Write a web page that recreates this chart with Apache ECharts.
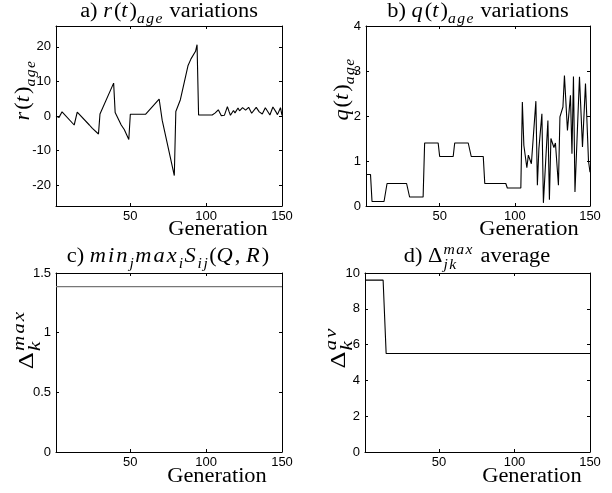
<!DOCTYPE html>
<html>
<head>
<meta charset="utf-8">
<script src="https://cdn.jsdelivr.net/npm/echarts@6/dist/echarts.min.js"></script>
<style>
html,body{margin:0;padding:0;background:#fff;}
#chart{width:612px;height:493px;}
</style>
</head>
<body>
<div id="chart"></div>
<script>
// ---------- data ----------
const xTicks = [50, 100, 150];
const yTicksA = [-20, -10, 0, 10, 20];
const yTicksB = [0, 1, 2, 3, 4];
const yTicksC = [0, 0.5, 1, 1.5];
const yTicksD = [0, 2, 4, 6, 8, 10];

// a) r(t)_age
const rGen = [1,3,5,13,15,23,25,29,30,39,40,44,46,49,50,60,69,71,79,80,83,88,90,93,94,95,
  104,106,107,108,110,112,114,115,116,118,119,121,122,124,126,128,130,133,135,137,139,141,142,144,146,147,149,150];
const rVal = [0,-0.4,1.2,-2.6,1.1,-2.6,-3.6,-5.2,0.6,9.5,1.0,-2.6,-3.9,-6.8,0.5,0.5,4.9,-1.2,-17.2,1.3,4.7,14.5,16.5,18.7,20.6,0.3,
  0.3,0.9,1.0,1.8,0.1,0.2,2.7,1.4,0.2,1.6,0.9,2.3,1.5,2.4,1.7,2.5,0.8,2.5,1.2,0.6,2.4,1.0,0.3,2.6,1.2,0.4,2.4,0.2];

// b) q(t)_age
const qGen = [1,4,5,13,15,28,30,39,40,49,50,59,60,69,71,79,80,94,95,104,
  105,106,108,109,111,114,115,116,118,119,122,123,124,126,127,129,130,132,133,135,137,138,139,140,143,145,147,149,150];
const qVal = [0.7,0.7,0.1,0.1,0.5,0.5,0.2,0.2,1.4,1.4,1.1,1.1,1.4,1.4,1.1,1.1,0.5,0.5,0.4,0.4,
  2.31,1.35,0.85,1.13,0.94,2.33,0.46,1.27,2.05,0.07,1.9,0.14,1.5,1.3,1.4,0.46,1.98,2.2,2.9,1.68,2.46,1.16,2.88,0.31,2.87,1.31,2.72,1.0,0.75];

// c) min_j max_i S_ij(Q,R)
const cGen = [1, 150];
const cVal = [1.385, 1.385];

// d) Delta_jk^max average
const dGen = [1, 13, 15, 150];
const dVal = [9.6, 9.6, 5.5, 5.5];

// ---------- helpers ----------
const zip = (a, b) => a.map((v, i) => [v, b[i]]);
const SERIF = '"Liberation Serif", "Times New Roman", serif';
const SANS = '"Liberation Sans", Arial, sans-serif';
const mctx = document.createElement('canvas').getContext('2d');
function measure(t, fs, it) {
  mctx.font = (it ? 'italic ' : '') + fs + 'px ' + SERIF;
  return mctx.measureText(t).width;
}
function txt(t, x, baseY, fs, it) {
  return {
    type: 'text', x: x, y: baseY - 0.32 * fs,
    style: { text: t, font: (it ? 'italic ' : '') + fs + 'px ' + SERIF, fill: '#000',
      align: 'left', verticalAlign: 'middle' }
  };
}
// lays out a run of text; italic (math) runs get extra letter spacing
function run(ch, t, x, baseY, fs, it) {
  if (!it) { ch.push(txt(t, x, baseY, fs, false)); return x + measure(t, fs, false); }
  const ls = 0.09 * fs;
  for (const c of t) {
    ch.push(txt(c, x, baseY, fs, true));
    x += measure(c, fs, true) + ls;
  }
  return x;
}
// parts: {t, it, sub} or {stack:[sup, sub]}
function mathGroup(parts, base, cx, cy, rot, opt) {
  opt = opt || {};
  const small = base * (opt.small || 0.7);
  let x = 0; const ch = [];
  for (const p of parts) {
    if (p.stack) {
      const a = []; const b = [];
      const e1 = run(a, p.stack[0], x + 1, -base * 0.42, small, true);
      const e2 = run(b, p.stack[1], x + 1, base * 0.3, small, true);
      ch.push(...a, ...b);
      x = Math.max(e1, e2) + 1;
    } else {
      const fs = p.sub ? small : base;
      const dy = p.sub ? base * 0.28 : 0;
      x = run(ch, p.t, x, dy, fs, !!p.it);
    }
  }
  ch.forEach(c => { c.x -= x / 2; c.y += base * 0.32; });
  return { type: 'group', x: cx, y: cy, rotation: rot || 0, scaleX: opt.sx || 1.12, scaleY: 1, children: ch };
}

// ---------- layout ----------
const grids = [
  { left: 56, top: 26, width: 226, height: 180 },
  { left: 366, top: 26, width: 224, height: 180 },
  { left: 56, top: 273, width: 226, height: 179 },
  { left: 365, top: 273, width: 225, height: 179 }
];
const yRanges = [[-26, 26, yTicksA], [0, 4, yTicksB], [0, 1.5, yTicksC], [0, 10, yTicksD]];
const lineAx = { show: true, onZero: false, lineStyle: { color: '#000', width: 1 } };
const xAxes = [], yAxes = [];
grids.forEach((g, i) => {
  xAxes.push({
    type: 'value', gridIndex: i, position: 'bottom', min: 1, max: 150,
    axisLine: lineAx, splitLine: { show: false },
    axisTick: { inside: true, length: 3, customValues: xTicks, lineStyle: { color: '#000' } },
    axisLabel: { customValues: xTicks, color: '#000', fontFamily: SANS, fontSize: 13, margin: 4 }
  });
  xAxes.push({
    type: 'value', gridIndex: i, position: 'top', min: 1, max: 150,
    axisLine: lineAx, splitLine: { show: false },
    axisTick: { inside: true, length: 3, customValues: xTicks, lineStyle: { color: '#000' } },
    axisLabel: { show: false }
  });
  const yr = yRanges[i];
  yAxes.push({
    type: 'value', gridIndex: i, position: 'left', min: yr[0], max: yr[1],
    axisLine: lineAx, splitLine: { show: false },
    axisTick: { inside: true, length: 3, customValues: yr[2], lineStyle: { color: '#000' } },
    axisLabel: { customValues: yr[2], color: '#000', fontFamily: SANS, fontSize: 13, margin: 5 }
  });
  yAxes.push({
    type: 'value', gridIndex: i, position: 'right', min: yr[0], max: yr[1],
    axisLine: lineAx, splitLine: { show: false },
    axisTick: { inside: true, length: 3, customValues: yr[2], lineStyle: { color: '#000' } },
    axisLabel: { show: false }
  });
});

const mkSeries = (i, gens, vals, color, w) => ({
  type: 'line', xAxisIndex: 2 * i, yAxisIndex: 2 * i, data: zip(gens, vals),
  showSymbol: false, symbol: 'none', animation: false, silent: true,
  lineStyle: { color: color, width: w }
});

// ---------- labels ----------
const TB = 20, XB = 20, YB = 20;
const graphics = [
  // titles
  mathGroup([{ t: 'a) ' }, { t: 'r', it: 1 }, { t: '(' }, { t: 't', it: 1 }, { t: ')' }, { t: 'age', it: 1, sub: 1 }, { t: ' variations' }], TB, 169, 12),
  mathGroup([{ t: 'b) ' }, { t: 'q', it: 1 }, { t: '(' }, { t: 't', it: 1 }, { t: ')' }, { t: 'age', it: 1, sub: 1 }, { t: ' variations' }], TB, 478, 12),
  mathGroup([{ t: 'c) ' }, { t: 'min', it: 1 }, { t: 'j', it: 1, sub: 1 }, { t: 'max', it: 1 }, { t: 'i', it: 1, sub: 1 }, { t: 'S', it: 1 }, { t: 'ij', it: 1, sub: 1 }, { t: '(' }, { t: 'Q', it: 1 }, { t: ', ' }, { t: 'R', it: 1 }, { t: ')' }], TB, 168, 257),
  mathGroup([{ t: 'd) ' }, { t: 'Δ' }, { stack: ['max', 'jk'] }, { t: ' average' }], TB, 477, 257),
  // x labels
  mathGroup([{ t: 'Generation' }], XB, 218, 230),
  mathGroup([{ t: 'Generation' }], XB, 529, 230),
  mathGroup([{ t: 'Generation' }], XB, 217, 477),
  mathGroup([{ t: 'Generation' }], XB, 532, 477),
  // y labels
  mathGroup([{ t: 'r', it: 1 }, { t: '(' }, { t: 't', it: 1 }, { t: ')' }, { t: 'age', it: 1, sub: 1 }], YB, 24, 90, Math.PI / 2),
  mathGroup([{ t: 'q', it: 1 }, { t: '(' }, { t: 't', it: 1 }, { t: ')' }, { t: 'age', it: 1, sub: 1 }], YB, 343, 89, Math.PI / 2),
  mathGroup([{ t: 'Δ' }, { stack: ['max', 'k'] }], 22, 27, 339, Math.PI / 2, { small: 0.8, sx: 1.2 }),
  mathGroup([{ t: 'Δ' }, { stack: ['av', 'k'] }], 22, 339, 347, Math.PI / 2, { small: 0.8, sx: 1.2 })
];

const chart = echarts.init(document.getElementById('chart'), null, { renderer: 'canvas' });
chart.setOption({
  animation: false,
  backgroundColor: '#fff',
  grid: grids,
  xAxis: xAxes,
  yAxis: yAxes,
  series: [
    mkSeries(0, rGen, rVal, '#000', 1.1),
    mkSeries(1, qGen, qVal, '#000', 1.1),
    mkSeries(2, cGen, cVal, '#777', 1.3),
    mkSeries(3, dGen, dVal, '#000', 1.1)
  ],
  graphic: graphics
});
</script>
</body>
</html>
